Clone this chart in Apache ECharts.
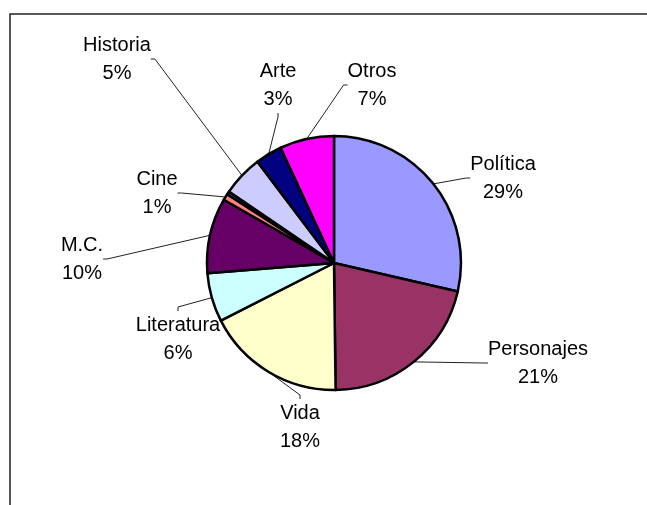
<!DOCTYPE html>
<html>
<head>
<meta charset="utf-8">
<script src="https://cdn.jsdelivr.net/npm/echarts@6/dist/echarts.min.js"></script>
<style>
html, body { margin: 0; padding: 0; background: #fff; }
#chart { width: 647px; height: 505px; }
</style>
</head>
<body>
<div id="chart"></div>
<script>
// datos: categorias y porcentajes
const categories = ['Política', 'Personajes', 'Vida', 'Literatura', 'M.C.', 'Cine', '', 'Historia', 'Arte', 'Otros']
const values = [28.6, 21.2, 17.7, 6.2, 9.6, 0.8, 0.4, 5.2, 3.4, 6.9]
const colors = ['#9999ff', '#993366', '#ffffcc', '#ccffff', '#660066', '#ff8080', '#0066cc', '#ccccff', '#000080', '#ff00ff']

// centro de cada etiqueta (px), mismo orden que categories
const labelPos = [[503, 178], [538, 363], [300, 427], [178, 339], [82, 259], [157, 193], null, [117, 59], [278, 85], [372, 85]]

const chart = echarts.init(document.getElementById('chart'))

const pieData = categories.map((name, i) => {
  const item = { name: name, value: values[i], itemStyle: { color: colors[i] } }
  if (!name) {
    item.label = { show: false }
    item.labelLine = { show: false }
  }
  return item
})

chart.setOption({
  animation: false,
  graphic: [
    {
      type: 'rect',
      shape: { x: 10, y: 14, width: 700, height: 600 },
      style: { fill: null, stroke: '#222', lineWidth: 1.5 },
      silent: true
    }
  ],
  series: [
    {
      type: 'pie',
      center: [334, 263],
      radius: 127,
      startAngle: 90,
      clockwise: true,
      avoidLabelOverlap: false,
      percentPrecision: 0,
      emphasis: { disabled: true },
      itemStyle: { borderColor: '#000', borderWidth: 2.5 },
      label: {
        show: true,
        position: 'outside',
        formatter: '{b}\n{d}%',
        fontFamily: 'Liberation Sans, Arial, sans-serif',
        fontSize: 20,
        lineHeight: 28,
        color: '#000'
      },
      labelLine: {
        show: true,
        length: 10,
        length2: 4,
        smooth: false,
        lineStyle: { color: '#222', width: 1 }
      },
      labelLayout: function (params) {
        const p = labelPos[params.dataIndex]
        if (!p) return {}
        return { x: p[0], y: p[1], align: 'center', verticalAlign: 'middle' }
      },
      data: pieData
    }
  ]
})
</script>
</body>
</html>
